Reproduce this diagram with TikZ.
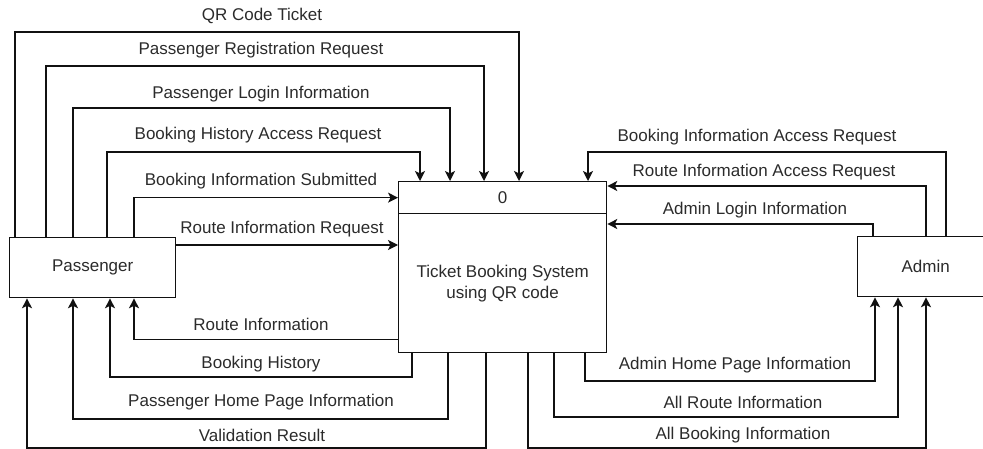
\documentclass[tikz,border=0pt]{standalone}
\usepackage{fontspec}
\setmainfont{Liberation Sans}
\usetikzlibrary{arrows.meta}

\definecolor{inkline}{HTML}{111111}
\definecolor{inktext}{HTML}{2B2B2B}

\tikzset{
  entity/.style={draw=inkline, line width=1.3pt, fill=white, inner sep=0pt,
    anchor=north west, text=inktext, align=center},
  flow/.style={draw=inkline, line width=1.3pt,
    -{Stealth[length=10pt,width=10pt,inset=2.5pt]}},
  lbl/.style={text=inktext, inner sep=0pt, anchor=center},
}

\begin{document}
\begin{tikzpicture}[x=1pt, y=-1pt, font=\fontsize{17}{21}\selectfont]
\useasboundingbox (0,0) rectangle (983,449);
\clip (0,0) rectangle (983,449);

% external entities and the process
\node[entity, minimum width=166pt, minimum height=60pt] (pass) at (9,237) {Passenger};
\node[entity, minimum width=136pt, minimum height=60pt] (admin) at (857,236) {Admin};
\node[entity, minimum width=208pt, minimum height=32pt] (num) at (398,181) {0};
\node[entity, minimum width=208pt, minimum height=139pt] (body) at (398,213)
  {Ticket Booking System\\using QR code};

% passenger -> system
\draw[flow] ([xshift=6pt]pass.north west) |- (519,32) -- ([xshift=121pt]num.north west);
\draw[flow] ([xshift=37pt]pass.north west) |- (484,66) -- ([xshift=86pt]num.north west);
\draw[flow] ([xshift=64pt]pass.north west) |- (450,108) -- ([xshift=52pt]num.north west);
\draw[flow] ([xshift=98pt]pass.north west) |- (420,152) -- ([xshift=22pt]num.north west);
\draw[flow] ([xshift=125pt]pass.north west) |- (num.west);
\draw[flow] ([yshift=-8pt]pass.north east) -- ([yshift=-32pt]body.north west);

% system -> passenger
\draw[flow] ([yshift=14pt]body.south west) -| ([xshift=125pt]pass.south west);
\draw[flow] ([xshift=14pt]body.south west) |- (110,377) -- ([xshift=101pt]pass.south west);
\draw[flow] ([xshift=50pt]body.south west) |- (73,419) -- ([xshift=64pt]pass.south west);
\draw[flow] ([xshift=88pt]body.south west) |- (27,448) -- ([xshift=18pt]pass.south west);

% admin -> system
\draw[flow] ([xshift=89pt]admin.north west) |- (588,152) -- ([xshift=190pt]num.north west);
\draw[flow] ([xshift=69pt]admin.north west) |- ([yshift=-5pt]num.north east);
\draw[flow] ([xshift=16pt]admin.north west) |- ([yshift=-11pt]body.north east);

% system -> admin
\draw[flow] ([xshift=187pt]body.south west) |- (875,381) -- ([xshift=18pt]admin.south west);
\draw[flow] ([xshift=156pt]body.south west) |- (898,417) -- ([xshift=41pt]admin.south west);
\draw[flow] ([xshift=130pt]body.south west) |- (926,448) -- ([xshift=69pt]admin.south west);

% flow labels, passenger side
\node[lbl] (tqr)  at (262,16)  {QR Code Ticket};
\node[lbl] (treg) at (261,50)  {Passenger Registration Request};
\node[lbl] (tpli) at (261,94)  {Passenger Login Information};
\node[lbl] (tbha) at (258,135) {Booking History Access Request};
\node[lbl] (tbis) at (261,181) {Booking Information Submitted};
\node[lbl] (trir) at (282,229) {Route Information Request};
\node[lbl] (tri)  at (261,324) {Route Information};
\node[lbl] (tbh)  at (261,364) {Booking History};
\node[lbl] (tphp) at (261,402) {Passenger Home Page Information};
\node[lbl] (tval) at (262,435) {Validation Result};

% flow labels, admin side
\node[lbl] (tbia) at (757,137) {Booking Information Access Request};
\node[lbl] (tria) at (764,172) {Route Information Access Request};
\node[lbl] (tali) at (755,210) {Admin Login Information};
\node[lbl] (tahp) at (735,365) {Admin Home Page Information};
\node[lbl] (tari) at (743,402) {All Route Information};
\node[lbl] (tabi) at (743,435) {All Booking Information};
\end{tikzpicture}
\end{document}
